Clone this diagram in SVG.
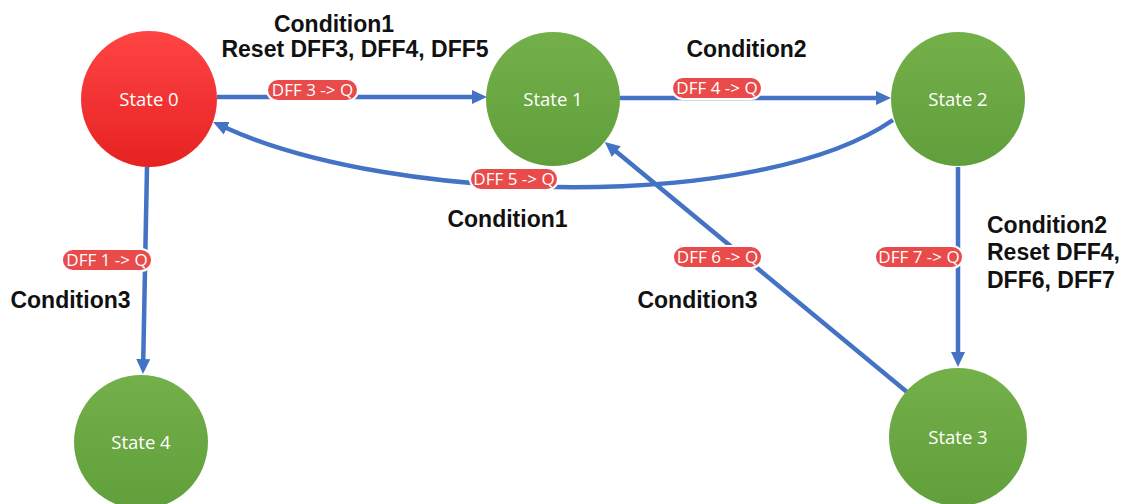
<svg xmlns="http://www.w3.org/2000/svg" width="1129" height="504" viewBox="0 0 1129 504">
<defs>
<linearGradient id="gRed" x1="0" y1="0" x2="0" y2="1">
<stop offset="0" stop-color="#FF4444"/>
<stop offset="1" stop-color="#E62222"/>
</linearGradient>
<linearGradient id="gGreen" x1="0" y1="0" x2="0" y2="1">
<stop offset="0" stop-color="#74B04A"/>
<stop offset="1" stop-color="#609F3B"/>
</linearGradient>
<marker id="arr" markerUnits="userSpaceOnUse" markerWidth="16" markerHeight="16" refX="3" refY="7" orient="auto">
<path d="M0,0 L15,7 L0,14 z" fill="#4472C4"/>
</marker>
<style>
.edge{fill:none;stroke:#4472C4;stroke-width:4.5;marker-end:url(#arr)}
.pill{fill:#E94B4B;stroke:#FFFFFF;stroke-width:2}
.ptxt{font-family:"Open Sans","DejaVu Sans",sans-serif;font-size:17px;fill:#FFFFFF;text-anchor:middle}
.stxt{font-family:"Open Sans","DejaVu Sans",sans-serif;font-size:18.5px;fill:#FFFFFF;text-anchor:middle}
.cond{font-family:"Liberation Sans",Arial,sans-serif;font-size:23px;font-weight:bold;fill:#111111}
.mid{text-anchor:middle}
</style>
</defs>
<rect width="1129" height="504" fill="#FFFFFF"/>

<g id="connectors">
<line class="edge" x1="217" y1="97" x2="475" y2="97"/>
<line class="edge" x1="620" y1="98" x2="879" y2="98"/>
<path class="edge" d="M893,120 C760,212 395,205 224,127"/>
<line class="edge" x1="147" y1="167" x2="143.2" y2="362"/>
<line class="edge" x1="958" y1="167" x2="958" y2="355"/>
<line class="edge" x1="907" y1="392" x2="614" y2="149.7"/>
<g id="edge-labels">
<rect class="pill" x="267" y="79" width="91" height="22" rx="11"/>
<text class="ptxt" x="312.5" y="96">DFF 3 -&gt; Q</text>
<rect class="pill" x="672" y="77" width="90" height="22" rx="11"/>
<text class="ptxt" x="717" y="94">DFF 4 -&gt; Q</text>
<rect class="pill" x="470" y="168" width="88" height="22" rx="11"/>
<text class="ptxt" x="514" y="185">DFF 5 -&gt; Q</text>
<rect class="pill" x="62" y="249" width="90" height="22" rx="11"/>
<text class="ptxt" x="107" y="266">DFF 1 -&gt; Q</text>
<rect class="pill" x="673" y="246" width="89" height="22" rx="11"/>
<text class="ptxt" x="717.5" y="263">DFF 6 -&gt; Q</text>
<rect class="pill" x="875" y="246" width="88" height="22" rx="11"/>
<text class="ptxt" x="919" y="263">DFF 7 -&gt; Q</text>
</g>
</g>

<g id="state0">
<circle cx="149" cy="99" r="68" fill="url(#gRed)"/>
<text class="stxt" x="149" y="106">State 0</text>
</g>
<g id="state1">
<circle cx="553" cy="99" r="67" fill="url(#gGreen)"/>
<text class="stxt" x="553" y="106">State 1</text>
</g>
<g id="state2">
<circle cx="958" cy="99" r="67" fill="url(#gGreen)"/>
<text class="stxt" x="958" y="106">State 2</text>
</g>
<g id="state3">
<circle cx="958" cy="437" r="69" fill="url(#gGreen)"/>
<text class="stxt" x="958" y="444">State 3</text>
</g>
<g id="state4">
<circle cx="141" cy="442" r="67" fill="url(#gGreen)"/>
<text class="stxt" x="141" y="449">State 4</text>
</g>

<g id="conditions">
<text class="cond mid" x="334" y="32">Condition1</text>
<text class="cond mid" x="355" y="57">Reset DFF3, DFF4, DFF5</text>
<text class="cond mid" x="746.5" y="57">Condition2</text>
<text class="cond mid" x="507.5" y="227">Condition1</text>
<text class="cond mid" x="70.5" y="308">Condition3</text>
<text class="cond mid" x="697.5" y="308">Condition3</text>
<text class="cond" x="987" y="233">Condition2</text>
<text class="cond" x="987" y="260">Reset DFF4,</text>
<text class="cond" x="987" y="288">DFF6, DFF7</text>
</g>
</svg>
